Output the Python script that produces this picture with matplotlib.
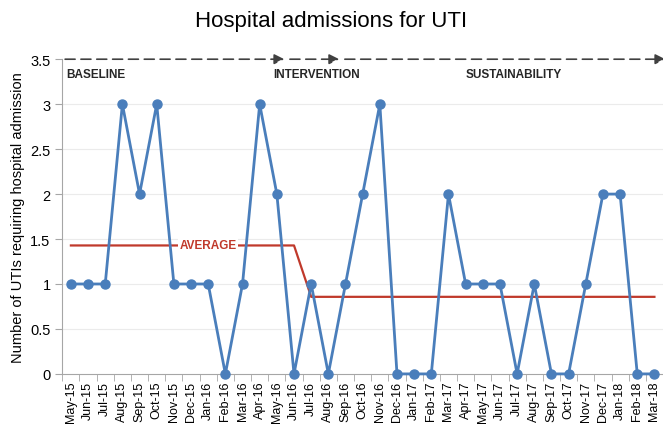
import numpy as np
import matplotlib.pyplot as plt

plt.rcParams['font.family'] = ['Liberation Sans', 'DejaVu Sans']

months = ['May-15', 'Jun-15', 'Jul-15', 'Aug-15', 'Sep-15', 'Oct-15', 'Nov-15', 'Dec-15',
          'Jan-16', 'Feb-16', 'Mar-16', 'Apr-16', 'May-16', 'Jun-16', 'Jul-16', 'Aug-16',
          'Sep-16', 'Oct-16', 'Nov-16', 'Dec-16', 'Jan-17', 'Feb-17', 'Mar-17', 'Apr-17',
          'May-17', 'Jun-17', 'Jul-17', 'Aug-17', 'Sep-17', 'Oct-17', 'Nov-17', 'Dec-17',
          'Jan-18', 'Feb-18', 'Mar-18']
utis = [1, 1, 1, 3, 2, 3, 1, 1, 1, 0, 1, 3, 2, 0, 1, 0, 1, 2, 3, 0, 0, 0, 2, 1, 1, 1,
        0, 1, 0, 0, 1, 2, 2, 0, 0]
split = 14  # first month after baseline average (Jul-16)

blue = '#4a7ebb'
red = '#c0392b'

x = np.arange(len(months))
avg_before = np.mean(utis[:split])
avg_after = np.mean(utis[split:])
avg = [avg_before] * split + [avg_after] * (len(months) - split)

fig = plt.figure(figsize=(6.63, 4.27), dpi=100)
ax = fig.add_axes([0.094, 0.122, 0.906, 0.737])

for yv in np.arange(0.5, 3.5, 0.5):
    ax.axhline(yv, color='#ebebeb', lw=0.8, zorder=0)

ax.plot(x, avg, color=red, lw=1.6, zorder=2)
ax.plot(x, utis, color=blue, lw=2, marker='o', markersize=6.5, zorder=3, clip_on=False)

ax.text(8, avg_before, 'AVERAGE', color=red, fontsize=8.5, fontweight='bold',
        ha='center', va='center', zorder=4,
        bbox=dict(facecolor='white', edgecolor='none', pad=1))

# phase arrows along the top
phases = [(-0.5, 12.6), (12.6, 15.8), (15.8, 34.8)]
for x0, x1 in phases:
    ax.annotate('', xy=(x1, 3.5), xytext=(x0, 3.5),
                arrowprops=dict(arrowstyle='-|>', color='#404040', lw=1.2,
                                linestyle=(0, (6, 3.5)), mutation_scale=15),
                annotation_clip=False)
lab = dict(fontsize=8.5, fontweight='bold', color='#262626', va='center')
ax.text(-0.3, 3.33, 'BASELINE', **lab)
ax.text(11.8, 3.33, 'INTERVENTION', **lab)
ax.text(23, 3.33, 'SUSTAINABILITY', **lab)

ax.set_xlim(-0.5, len(months) - 0.5)
ax.set_ylim(0, 3.5)
ax.set_yticks(np.arange(0, 3.51, 0.5))
ax.set_yticklabels(['0', '0.5', '1', '1.5', '2', '2.5', '3', '3.5'], fontsize=10.5)
ax.set_xticks(x)
ax.set_xticklabels(months, rotation=90, fontsize=9)
ax.set_xticks(np.arange(-0.5, len(months), 1), minor=True)
ax.tick_params(axis='x', which='major', length=0, pad=5)
ax.tick_params(axis='x', which='minor', length=5, color='#a6a6a6')
ax.tick_params(axis='y', length=5, color='#a6a6a6')

for s in ['top', 'right']:
    ax.spines[s].set_visible(False)
for s in ['left', 'bottom']:
    ax.spines[s].set_color('#a6a6a6')

ax.set_ylabel('Number of UTIs requiring hospital admission', fontsize=10.5)
fig.suptitle('Hospital admissions for UTI', fontsize=16, y=0.975)

fig.savefig('out.png', dpi=100)
